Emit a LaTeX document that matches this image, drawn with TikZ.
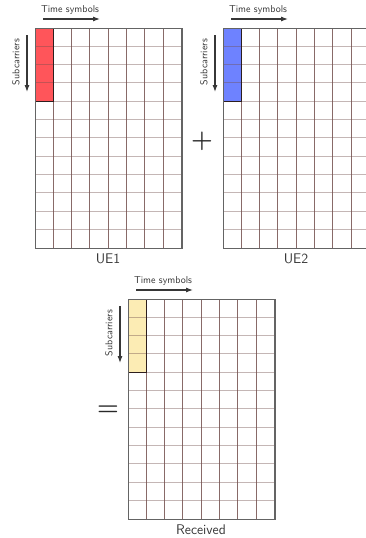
\documentclass[tikz,border=0pt]{standalone}
\usetikzlibrary{arrows.meta}
\definecolor{gridc}{RGB}{115,80,78}
\definecolor{framec}{RGB}{100,100,100}
\definecolor{inkc}{RGB}{55,55,55}
\definecolor{opc}{RGB}{40,40,40}
\definecolor{blockc}{RGB}{45,30,30}
\definecolor{uefillA}{RGB}{255,85,90}
\definecolor{uefillB}{RGB}{110,130,255}
\definecolor{rxfill}{RGB}{252,236,180}
\tikzset{
  vgl/.style={draw=gridc, draw opacity=0.85, line width=0.9pt},
  hgl/.style={draw=gridc, draw opacity=0.42, line width=0.9pt},
  gridframe/.style={draw=framec, line width=1.2pt},
  blockframe/.style={draw=blockc, line width=1pt},
  smalltext/.style={font=\sffamily\fontsize{10}{12}\selectfont, text=inkc, inner sep=0pt},
  bigtext/.style={font=\sffamily\fontsize{14}{16}\selectfont, text=inkc, inner sep=0pt},
  optext/.style={font=\fontsize{28}{30}\selectfont\boldmath, text=opc, inner sep=0pt},
  axarrow/.style={draw=inkc, line width=1.1pt, -{Latex[length=7pt,width=5pt]}},
}
\newcommand\resgrid[5]{%
  \begin{scope}[shift={(#2,#3)}]
    \fill[#4] (0,0) rectangle (18.3,73.2);
    \foreach \j in {1,...,11} \draw[hgl] (0,\j*18.3) -- (146.4,\j*18.3);
    \foreach \i in {1,...,7} \draw[vgl] (\i*18.3,0) -- (\i*18.3,219.6);
    \draw[blockframe] (0,0) rectangle (18.3,73.2);
    \node[gridframe, minimum width=146.4pt, minimum height=219.6pt, anchor=north west, inner sep=0pt] (#1) at (0,0) {};
    \node[smalltext] (#1time) at (35,-18) {Time symbols};
    \coordinate (#1ta) at (8,-9);
    \coordinate (#1tb) at (65,-9);
    \draw[axarrow] (#1ta) -- (#1tb);
    \node[smalltext, rotate=90] (#1sub) at (-19,34) {Subcarriers};
    \coordinate (#1sa) at (-8,7);
    \coordinate (#1sb) at (-8,64);
    \draw[axarrow] (#1sa) -- (#1sb);
    \node[bigtext] (#1label) at (73,231) {#5};
  \end{scope}
}
\begin{document}
\begin{tikzpicture}[x=1pt,y=-1pt]
  \useasboundingbox (0,0) rectangle (366,538);
  \clip (0,0) rectangle (366,538);
  \resgrid{ueA}{35}{28}{uefillA}{UE1}
  \resgrid{ueB}{223}{28}{uefillB}{UE2}
  \resgrid{rx}{128}{299}{rxfill}{Received}
  \node[optext] (plus) at (202,141) {$+$};
  \node[optext] (equals) at (108,411) {$=$};
\end{tikzpicture}
\end{document}
